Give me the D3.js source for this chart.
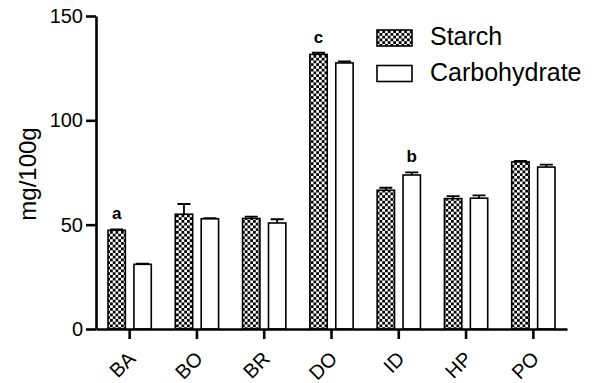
<!DOCTYPE html>
<html>
<head>
<meta charset="utf-8">
<script src="https://cdn.jsdelivr.net/npm/d3@7"></script>
<style>
  body { margin: 0; background: #fff; }
  text { font-family: Arial, "Liberation Sans", sans-serif; fill: #000; }
</style>
</head>
<body>
<div id="chart"></div>
<script>
var categories = ["BA", "BO", "BR", "DO", "ID", "HP", "PO"];
var series_names = ["Starch", "Carbohydrate"];
var starch = [47.3, 55.0, 53.0, 131.6, 66.5, 62.5, 80.1];
var starch_err = [0.4, 4.9, 0.9, 0.8, 1.2, 1.2, 0.5];
var carb = [31.0, 52.8, 50.8, 127.5, 73.8, 62.7, 77.6];
var carb_err = [0.3, 0.3, 1.8, 0.7, 1.3, 1.3, 1.2];
var y_ticks = [0, 50, 100, 150];
// significance letters: [category, series, letter]
var letters = [["BA", 0, "a"], ["DO", 0, "c"], ["ID", 1, "b"]];

var width = 595, height = 383;

var svg = d3.select("#chart").append("svg")
            .attr("width", width)
            .attr("height", height);

var defs = svg.append("defs");
var pat = defs.append("pattern")
              .attr("id", "check")
              .attr("patternUnits", "userSpaceOnUse")
              .attr("width", 5.5)
              .attr("height", 5.5);
pat.append("rect").attr("width", 5.5).attr("height", 5.5).attr("fill", "#fff");
pat.append("rect").attr("width", 2.75).attr("height", 2.75).attr("fill", "#000");
pat.append("rect").attr("x", 2.75).attr("y", 2.75).attr("width", 2.75).attr("height", 2.75).attr("fill", "#000");

var x0 = d3.scaleBand().domain(categories).range([96, 567]);
var x1 = d3.scaleBand().domain([0, 1]).range([12, x0.bandwidth() - 12]).paddingInner(0.33);
var y = d3.scaleLinear().domain([0, 150]).range([329, 16]);

var rows = [];
for (i = 0; i < categories.length; i++) {
	rows.push({cat: categories[i], s: 0, v: starch[i], e: starch_err[i]});
	rows.push({cat: categories[i], s: 1, v: carb[i], e: carb_err[i]});
}

var bars = svg.append("g");

// error bars (upper only)
bars.selectAll(".err")
    .data(rows)
    .enter()
    .append("path")
    .attr("class", "err")
    .attr("d", function(d) {
    	var cx = x0(d.cat) + x1(d.s) + x1.bandwidth() / 2;
    	var top = y(d.v + d.e);
    	return "M" + cx + "," + y(d.v) + "V" + top + "M" + (cx - 6.5) + "," + top + "H" + (cx + 6.5);
    })
    .attr("stroke", "#000")
    .attr("stroke-width", 1.8)
    .attr("fill", "none");

bars.selectAll("rect")
    .data(rows)
    .enter()
    .append("rect")
    .attr("x", function(d) { return x0(d.cat) + x1(d.s); })
    .attr("y", function(d) { return y(d.v); })
    .attr("width", x1.bandwidth())
    .attr("height", function(d) { return y(0) - y(d.v); })
    .attr("fill", function(d) { return d.s == 0 ? "url(#check)" : "#fff"; })
    .attr("stroke", "#000")
    .attr("stroke-width", 1.6);

// letters
svg.selectAll(".sig")
   .data(letters)
   .enter()
   .append("text")
   .attr("class", "sig")
   .attr("x", function(d) { return x0(d[0]) + x1(d[1]) + x1.bandwidth() / 2; })
   .attr("y", function(d) {
   	var i = categories.indexOf(d[0]);
   	var v = d[1] == 0 ? starch[i] + starch_err[i] : carb[i] + carb_err[i];
   	return y(v) - 10;
   })
   .attr("text-anchor", "middle")
   .style("font-size", "17px")
   .style("font-weight", "bold")
   .text(function(d) { return d[2]; });

// y axis
var yAxis = svg.append("g")
               .attr("transform", "translate(96,0)")
               .call(d3.axisLeft(y).tickValues(y_ticks).tickSize(10).tickSizeOuter(0).tickPadding(3));
yAxis.select(".domain").attr("stroke-width", 2.6);
yAxis.selectAll(".tick line").attr("stroke-width", 2.6);
yAxis.selectAll(".tick text")
     .style("font-size", "20px")
     .style("font-family", "Arial, 'Liberation Sans', sans-serif");

// x axis
var xAxis = svg.append("g")
               .attr("transform", "translate(0,329)")
               .call(d3.axisBottom(x0).tickSize(10).tickSizeOuter(0));
xAxis.select(".domain").attr("stroke-width", 2.6);
xAxis.selectAll(".tick line").attr("stroke-width", 2.6);
xAxis.selectAll(".tick text")
     .style("font-size", "20px")
     .style("font-family", "Arial, 'Liberation Sans', sans-serif")
     .attr("text-anchor", "end")
     .attr("dy", null)
     .attr("y", null)
     .attr("transform", "translate(7,31) rotate(-45)");

// y label
svg.append("text")
   .attr("transform", "translate(36,174) rotate(-90)")
   .attr("text-anchor", "middle")
   .style("font-size", "24px")
   .text("mg/100g");

// legend
var legend = svg.append("g");
legend.selectAll("rect")
      .data(series_names)
      .enter()
      .append("rect")
      .attr("x", 377)
      .attr("y", function(d, i) { return 30 + i * 35.5; })
      .attr("width", 35)
      .attr("height", 16)
      .attr("fill", function(d, i) { return i == 0 ? "url(#check)" : "#fff"; })
      .attr("stroke", "#000")
      .attr("stroke-width", 1.6);
legend.selectAll("text")
      .data(series_names)
      .enter()
      .append("text")
      .attr("x", 430)
      .attr("y", function(d, i) { return 45 + i * 35.5; })
      .style("font-size", "25px")
      .text(function(d) { return d; });
</script>
</body>
</html>
